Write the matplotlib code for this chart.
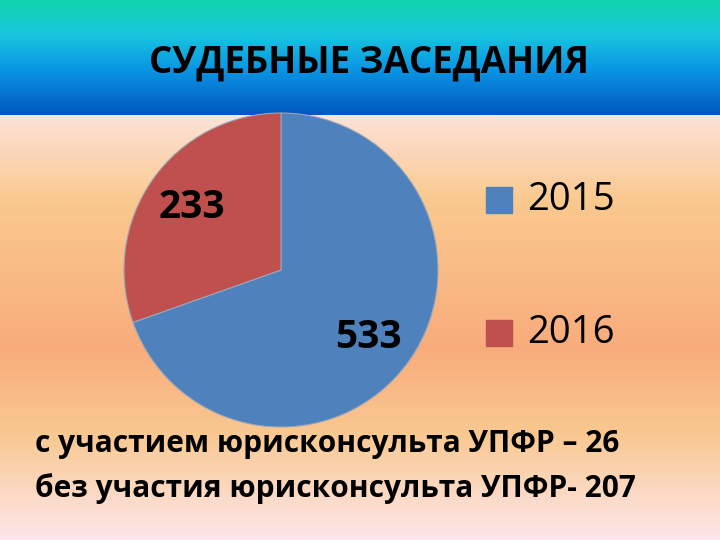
import matplotlib
matplotlib.use("Agg")
import matplotlib.pyplot as plt
import numpy as np
from matplotlib.colors import LinearSegmentedColormap

# --- data ---
years = ["2015", "2016"]
sessions = [533, 233]
title = "СУДЕБНЫЕ ЗАСЕДАНИЯ"
notes = ["с участием юрисконсульта УПФР – 26",
         "без участия юрисконсульта УПФР- 207"]

colors = ["#4F81BD", "#C0504D"]
plt.rcParams["font.family"] = ["Open Sans", "DejaVu Sans"]

W, H = 720, 540
fig = plt.figure(figsize=(7.2, 5.4), dpi=100)
ax = fig.add_axes([0, 0, 1, 1])

# background: header band + warm body gradient (y runs 0 .. -H, top down)
head = LinearSegmentedColormap.from_list(
    "head", [(0, "#10D4AC"), (0.3, "#18C6DE"), (0.6, "#0A96E4"), (1, "#0258C0")])
body = LinearSegmentedColormap.from_list(
    "body", [(0, "#FDE2D8"), (0.2, "#FAC98E"), (0.55, "#F8AC7C"),
             (0.75, "#F9C890"), (1, "#FDE6EA")])
hy = 115
ax.imshow(head(np.linspace(0, 1, 200))[:, None, :3], extent=[0, W, -hy, 0],
          aspect="auto", zorder=0)
ax.imshow(body(np.linspace(0, 1, 400))[:, None, :3], extent=[0, W, -H, -hy],
          aspect="auto", zorder=0)

wedges, _ = ax.pie(sessions, colors=colors, startangle=90, counterclock=False,
                   center=(281, -270), radius=157,
                   wedgeprops=dict(linewidth=0.8, edgecolor="#9aa6b8"))
ax.set_xlim(0, W)
ax.set_ylim(-H, 0)
ax.set_aspect("auto")
ax.axis("off")

ax.text(369, -63, title, ha="center", va="center", fontsize=26.5,
        fontweight="bold", color="black")

ax.text(368, -338, str(sessions[0]), ha="center", va="center", fontsize=28,
        fontweight="bold")
ax.text(192, -208, str(sessions[1]), ha="center", va="center", fontsize=28,
        fontweight="bold")

for y, lab, c in zip([-200, -333], years, colors):
    ax.add_patch(plt.Rectangle((486, y - 13), 26, 26, color=c, zorder=3))
    ax.text(527, y, lab, ha="left", va="center", fontsize=27.5)

for y, s in zip([-444, -489], notes):
    ax.text(35, y, s, ha="left", va="center", fontsize=21.5, fontweight="bold")

fig.savefig("out.png", dpi=100)
